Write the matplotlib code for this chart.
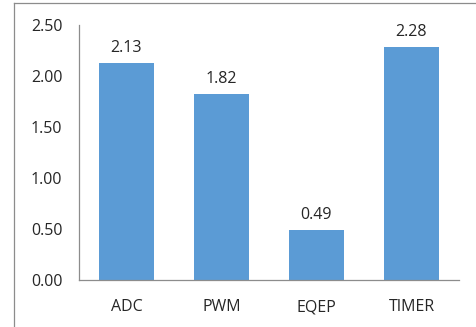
import matplotlib
matplotlib.use("Agg")
import matplotlib.pyplot as plt
from matplotlib.lines import Line2D

categories = ["ADC", "PWM", "EQEP", "TIMER"]
values = [2.13, 1.82, 0.49, 2.28]
yticks = [0.0, 0.5, 1.0, 1.5, 2.0, 2.5]

plt.rcParams['font.family'] = ['Open Sans', 'DejaVu Sans']
W, H = 477, 327
fig = plt.figure(figsize=(W / 100, H / 100), dpi=100)
ax = fig.add_axes([79 / W, (H - 280) / H, (459 - 79) / W, (280 - 25) / H])

FS = 11.5
TC = "#262626"
x = list(range(len(categories)))
ax.bar(x, values, width=0.57, color="#5B9BD5", zorder=2)
for xi, v in zip(x, values):
    ax.annotate(f"{v:.2f}", (xi, v), xytext=(0, 5), textcoords="offset points",
                ha="center", va="bottom", fontsize=FS, color=TC)

ax.set_xlim(-0.5, len(categories) - 0.5)
ax.set_ylim(0, 2.5)
ax.set_yticks(yticks)
ax.set_yticklabels([f"{t:.2f}" for t in yticks], fontsize=FS, color=TC)
ax.set_xticks(x)
ax.set_xticklabels(categories, fontsize=FS, color=TC)
ax.tick_params(axis="y", length=0, pad=12)
ax.tick_params(axis="x", length=0, pad=14)
for s in ["top", "right"]:
    ax.spines[s].set_visible(False)
for s in ["left", "bottom"]:
    ax.spines[s].set_color("#8C8C8C")
    ax.spines[s].set_linewidth(0.9)

# outer chart border (cropped at right/bottom)
fig.add_artist(Line2D([14 / W, 1.0], [1 - 3 / H, 1 - 3 / H], transform=fig.transFigure,
                      color="#8C8C8C", linewidth=0.9))
fig.add_artist(Line2D([14 / W, 14 / W], [0.0, 1 - 3 / H], transform=fig.transFigure,
                      color="#8C8C8C", linewidth=0.9))

fig.savefig("out.png", dpi=100)
